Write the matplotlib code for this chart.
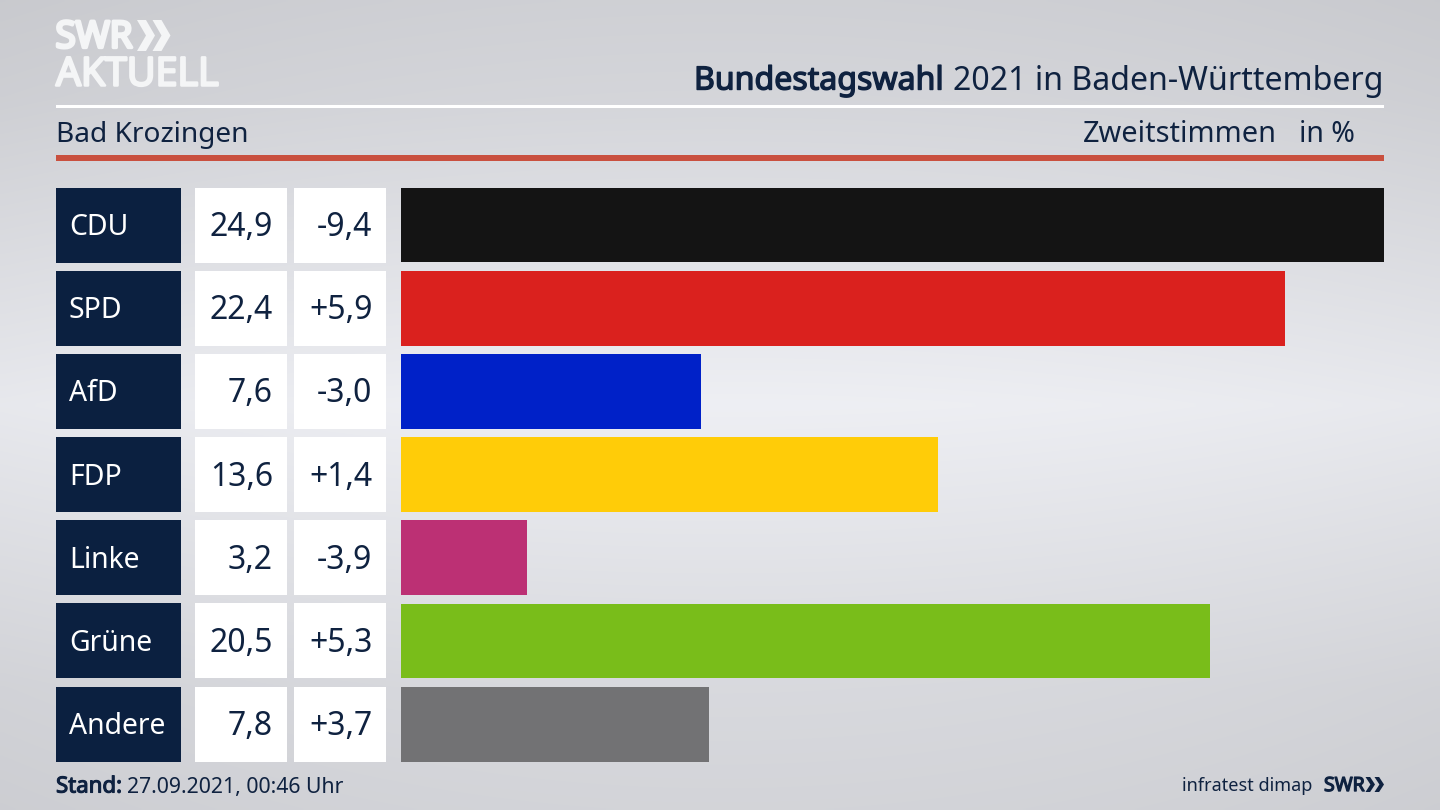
import numpy as np
import matplotlib
matplotlib.use("Agg")
import matplotlib.pyplot as plt
import matplotlib.patheffects as pe
from matplotlib.patches import Rectangle, Polygon

parties = ["CDU", "SPD", "AfD", "FDP", "Linke", "Grüne", "Andere"]
shares = [24.9, 22.4, 7.6, 13.6, 3.2, 20.5, 7.8]
changes = ["-9,4", "+5,9", "-3,0", "+1,4", "-3,9", "+5,3", "+3,7"]
colors = ["#141414", "#da211e", "#0021c8", "#ffcc08", "#bc3074", "#79bd1a", "#727274"]

NAVY = "#0b2040"
TEXT = "#0f2240"
LOGO = "#f4f5f6"
FONT = "Noto Sans"
plt.rcParams["font.family"] = [FONT, "DejaVu Sans"]
W, H = 1440, 810

fig = plt.figure(figsize=(14.4, 8.1), dpi=100)


def heavy(color, width):
    return [pe.withStroke(linewidth=width, foreground=color)]


# background gradient
bg = fig.add_axes([0, 0, 1, 1], zorder=0)
stops_y = [0, 0.12, 0.5, 0.85, 1]
stops_v = [0.80, 0.82, 0.92, 0.835, 0.815]
yy = np.linspace(0, 1, 256)
grad = np.interp(yy, stops_y, stops_v)[:, None]
xx = np.linspace(-1, 1, 256)[None, :]
img = grad + 0.025 * (1 - xx**2) - 0.012
rgb = np.dstack([img, img + 0.004, img + 0.022]).clip(0, 1)
bg.imshow(rgb, aspect="auto", extent=[0, 1, 0, 1], interpolation="bilinear")
bg.axis("off")

# overlay in pixel space
ov = fig.add_axes([0, 0, 1, 1], zorder=1)
ov.set_xlim(0, W)
ov.set_ylim(H, 0)
ov.axis("off")

# rules
ov.add_patch(Rectangle((56, 104.5), 1328, 3, color="white", lw=0))
ov.add_patch(Rectangle((56, 155), 1328, 5.5, color="#c9503f", lw=0))

# logo
ov.text(55.5, 38.5, "SWR", color=LOGO, fontsize=26.5, family="Open Sans",
        va="center", ha="left", path_effects=heavy(LOGO, 2.4))
ov.text(56, 75.5, "AKTUELL", color=LOGO, fontsize=28.4, family="Open Sans",
        va="center", ha="left", path_effects=heavy(LOGO, 1.8))


def chevrons(x, y, h, w, t, gap, color):
    for dx in (0, gap):
        ov.add_patch(Polygon([(x + dx, y), (x + dx + t, y), (x + dx + w, y + h / 2),
                              (x + dx + t, y + h), (x + dx, y + h),
                              (x + dx + w - t, y + h / 2)], closed=True,
                             color=color, lw=0))


chevrons(137, 20, 31, 18, 9, 15.5, LOGO)

# title
t2 = ov.text(1383.5, 81, "2021 in Baden-Württemberg", color=TEXT, fontsize=23.1,
             ha="right", va="center")
fig.canvas.draw()
ext = t2.get_window_extent()
ov.text(ext.x0 - 9, 81, "Bundestagswahl", color=TEXT, fontsize=23.1,
        ha="right", va="center", path_effects=heavy(TEXT, 1.0))

# sub header
ov.text(56, 135, "Bad Krozingen", color=TEXT, fontsize=20.2, ha="left", va="center")
ov.text(1277, 135, "Zweitstimmen", color=TEXT, fontsize=20.8, ha="right", va="center")
ov.text(1354.5, 135, "in %", color=TEXT, fontsize=20.5, ha="right", va="center")

# bars
TOP, BOTTOM, LEFT, RIGHT = 187.6, 761.6, 400.5, 1384
ax = fig.add_axes([LEFT / W, 1 - BOTTOM / H, (RIGHT - LEFT) / W, (BOTTOM - TOP) / H], zorder=2)
ax.barh(range(len(parties)), shares, height=0.9, color=colors, linewidth=0)
ax.set_xlim(0, max(shares))
ax.set_ylim(len(parties) - 0.55, -0.45)
ax.axis("off")

# table cells
PITCH = 83.17
for i, (party, share, change) in enumerate(zip(parties, shares, changes)):
    y0 = TOP + i * PITCH
    yc = y0 + 40
    ov.add_patch(Rectangle((56, y0), 125, 75, color=NAVY, lw=0))
    ov.add_patch(Rectangle((195, y0), 92, 75, color="white", lw=0))
    ov.add_patch(Rectangle((294, y0), 92, 75, color="white", lw=0))
    ov.text(69, yc, party, color="white", fontsize=20.4, ha="left", va="center")
    ov.text(273, yc, f"{share:.1f}".replace(".", ","), color=TEXT, fontsize=23,
            ha="right", va="center")
    ov.text(372.5, yc, change, color=TEXT, fontsize=23, ha="right", va="center")

# footer
ov.text(56, 787, "Stand:", color=TEXT, fontsize=16, ha="left", va="center",
        path_effects=heavy(TEXT, 0.8))
ov.text(127, 787, "27.09.2021, 00:46 Uhr", color=TEXT, fontsize=15.3,
        ha="left", va="center")
ov.text(1312, 786, "infratest dimap", color=TEXT, fontsize=13, ha="right", va="center")
ov.text(1324, 786, "SWR", color=TEXT, fontsize=14, family="Open Sans",
        ha="left", va="center", path_effects=heavy(TEXT, 1.0))
chevrons(1365.5, 777, 15, 9.5, 4.6, 9, TEXT)

fig.savefig("out.png", dpi=100)
